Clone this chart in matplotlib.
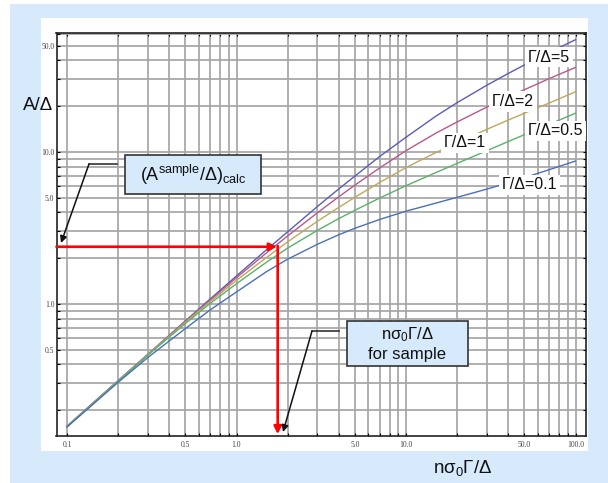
import numpy as np
import matplotlib.pyplot as plt
from matplotlib.patches import Rectangle, FancyArrowPatch
from matplotlib.lines import Line2D

plt.rcParams['font.family'] = ['Liberation Sans', 'DejaVu Sans']
plt.rcParams['mathtext.fontset'] = 'custom'
plt.rcParams['mathtext.rm'] = 'Liberation Sans'
plt.rcParams['mathtext.it'] = 'Liberation Sans:italic'
plt.rcParams['mathtext.bf'] = 'Liberation Sans:bold'

x_vals = [0.1, 0.2, 0.3, 0.5, 0.7, 1, 1.5, 2, 3, 4, 5, 7, 10, 15, 20, 30, 40, 50, 70, 100]
# A/Delta for each Gamma/Delta
a_g5 = [0.157, 0.313, 0.467, 0.775, 1.08, 1.53, 2.27, 2.98, 4.38, 5.7, 6.95, 9.35,
        12.5, 17.2, 21.1, 27.5, 32.8, 37.4, 45.2, 54.8]
a_g2 = [0.157, 0.312, 0.466, 0.768, 1.06, 1.49, 2.165, 2.80, 3.98, 5.06, 6.06, 7.86,
        10.2, 13.3, 15.75, 19.75, 23.0, 25.7, 30.4, 36.0]
a_g1 = [0.157, 0.311, 0.464, 0.76, 1.04, 1.43, 2.02, 2.56, 3.50, 4.31, 5.04, 6.31,
        7.90, 9.91, 11.5, 14.1, 16.2, 18.0, 21.0, 24.9]
a_g05 = [0.156, 0.31, 0.461, 0.745, 1.01, 1.36, 1.88, 2.33, 3.05, 3.64, 4.14, 4.98,
         6.0, 7.32, 8.41, 10.2, 11.7, 13.0, 15.2, 18.0]
a_g01 = [0.155, 0.305, 0.445, 0.69, 0.915, 1.2, 1.63, 1.97, 2.47, 2.85, 3.15, 3.60,
         4.08, 4.61, 5.03, 5.70, 6.27, 6.78, 7.65, 8.72]

curves = [a_g5, a_g2, a_g1, a_g05, a_g01]
curve_labels = ["Γ/Δ=5", "Γ/Δ=2", "Γ/Δ=1", "Γ/Δ=0.5", "Γ/Δ=0.1"]
curve_colors = ["#5c5cb8", "#b9588c", "#bca95a", "#5cb06c", "#4a70b8"]
# label centres in axes fraction
label_pos = [(0.930, 0.939), (0.862, 0.829), (0.7715, 0.726), (0.943, 0.7556), (0.894, 0.6216)]

x_ticks = [0.1, 0.5, 1.0, 5.0, 10.0, 50.0, 100.0]
y_ticks = [0.5, 1.0, 5.0, 10.0, 50.0]

# the sample read-off
sample_x = 1.75
sample_a = 2.38

W, H = 608, 483


def fx(px):
    return px / W


def fy(py):
    return 1 - py / H


fig = plt.figure(figsize=(W / 100, H / 100), dpi=100)
fig.patch.set_facecolor("white")
fig.add_artist(Rectangle((fx(10), 0), 1 - fx(10), fy(4), transform=fig.transFigure,
                         fc="#d6eafc", ec="none", zorder=-10))
fig.add_artist(Rectangle((fx(41), fy(451)), fx(588) - fx(41), fy(18) - fy(451),
                         transform=fig.transFigure, fc="white", ec="none", zorder=-9))

ax = fig.add_axes([fx(56.5), fy(435.5), fx(586) - fx(56.5), fy(32.5) - fy(435.5)])
ax.set_xscale("log")
ax.set_yscale("log")

for vals, col in zip(curves, curve_colors):
    ax.plot(x_vals, vals, color=col, lw=1.0, zorder=3)

for lbl, (lx, ly) in zip(curve_labels, label_pos):
    ax.text(lx, ly, lbl, transform=ax.transAxes, ha="center", va="center", fontsize=11.5,
            color="#111111", bbox=dict(fc="white", ec="none", pad=2), zorder=4, clip_on=False)

# grid at every 1..9 of each decade
grid_vals = [m * 10.0 ** e for e in (-1, 0, 1) for m in range(1, 10)] + [100.0]
ax.set_xticks(grid_vals)
ax.set_xticklabels(["%.1f" % v if any(np.isclose(v, t) for t in x_ticks) else "" for v in grid_vals])
ax.set_yticks(grid_vals)
ax.set_yticklabels(["%.1f" % v if any(np.isclose(v, t) for t in y_ticks) else "" for v in grid_vals])
ax.minorticks_off()
ax.set_xlim(0.0867, 115.3)
ax.set_ylim(0.1364, 61.1)
ax.grid(True, color="#a6a6a6", lw=1.25, zorder=1)
ax.set_axisbelow(True)
ax.tick_params(direction="in", length=2.5, width=0.8, top=True, right=True,
               labelsize=5.5, labelcolor="#444444")
ax.tick_params(axis="x", pad=4)
ax.tick_params(axis="y", pad=1.5)
for t in ax.get_xticklabels() + ax.get_yticklabels():
    t.set_fontfamily("Liberation Serif")
for s in ax.spines.values():
    s.set_color("#222222")
    s.set_linewidth(1.2)

# red read-off arrows
red = dict(arrowstyle="-|>", color="#ff0000", lw=1.9, mutation_scale=11, shrinkA=0, shrinkB=0)
ax.annotate("", xy=(sample_x * 0.99, sample_a), xytext=(0.0867, sample_a), arrowprops=red, zorder=5)
ax.annotate("", xy=(sample_x, 0.1364 * 1.02), xytext=(sample_x, sample_a * 1.01), arrowprops=red, zorder=5)

# callout boxes
box_fc = "#d6eafc"
fig.add_artist(Rectangle((fx(125), fy(194)), fx(261) - fx(125), fy(155) - fy(194),
                         transform=fig.transFigure, fc=box_fc, ec="#333333", lw=1.2, zorder=5))
fig.text(fx(193), fy(175), r"(A$^{\mathrm{sample}}$/Δ)$_{\mathrm{calc}}$", ha="center", va="center",
         fontsize=13, color="#111111", zorder=6)
fig.add_artist(Rectangle((fx(347), fy(366)), fx(468) - fx(347), fy(321) - fy(366),
                         transform=fig.transFigure, fc=box_fc, ec="#333333", lw=1.2, zorder=5))
fig.text(fx(407.5), fy(335), r"nσ$_0$Γ/Δ", ha="center", va="center", fontsize=12, color="#111111", zorder=6)
fig.text(fx(407.5), fy(354), "for sample", ha="center", va="center", fontsize=12, color="#111111", zorder=6)

# leader lines with black arrows
for (x0, y0), (x1, y1), (x2, y2) in [((117, 164), (89, 164), (61, 243)),
                                     ((339, 331), (312, 331), (283, 432))]:
    fig.add_artist(Line2D([fx(x0), fx(x1)], [fy(y0), fy(y1)], transform=fig.transFigure,
                          color="#222222", lw=1.1, zorder=5))
    fig.add_artist(FancyArrowPatch((fx(x1), fy(y1)), (fx(x2), fy(y2)), transform=fig.transFigure,
                                   arrowstyle="-|>", mutation_scale=10, color="#111111", lw=1.1,
                                   shrinkA=0, shrinkB=0, zorder=5))

fig.text(fx(38), fy(106), "A/Δ", ha="center", va="center", fontsize=13.5, color="#111111")
fig.text(fx(463), fy(468), r"nσ$_0$Γ/Δ", ha="center", va="center", fontsize=13.5, color="#111111")

fig.savefig("out.png", dpi=100)
